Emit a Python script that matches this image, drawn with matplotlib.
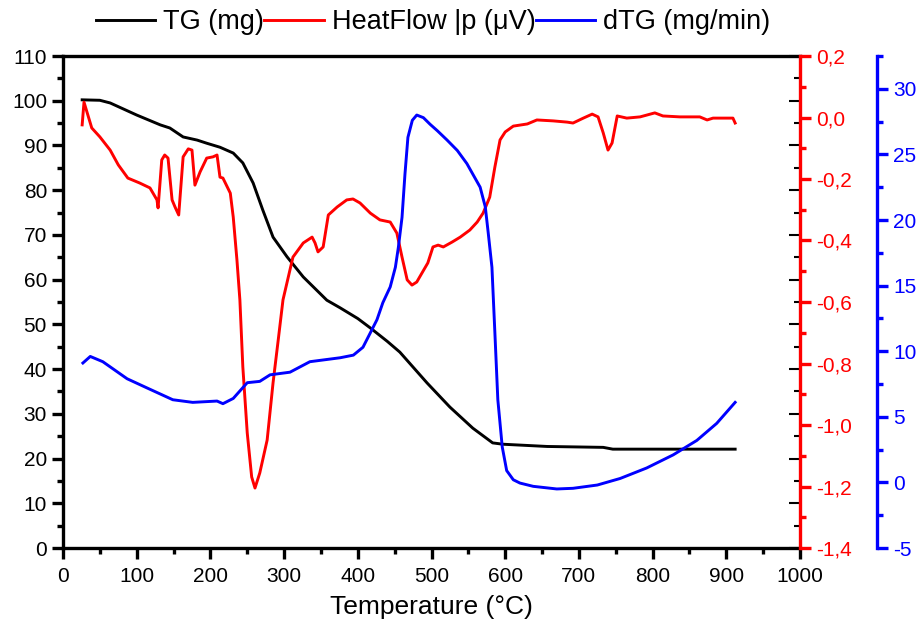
import numpy as np
import matplotlib
matplotlib.use("Agg")
import matplotlib.pyplot as plt
from matplotlib.ticker import MultipleLocator, FuncFormatter

plt.rcParams['font.family'] = ['Liberation Sans', 'DejaVu Sans']

# TG curve (mg)
tg_temp = [26, 50, 64, 100, 132, 145, 163, 182, 195, 213, 231, 244, 258, 271, 285, 304, 326, 358,
           376, 400, 417, 440, 457, 494, 525, 556, 583, 597, 657, 733, 746, 792, 912]
tg_mass = [100.2, 100.1, 99.5, 96.8, 94.6, 93.9, 91.9, 91.2, 90.5, 89.6, 88.3, 86.1, 81.6, 75.6, 69.5,
           65.1, 60.6, 55.4, 53.7, 51.3, 49.2, 46.2, 43.8, 36.9, 31.5, 26.8, 23.5, 23.2, 22.7, 22.5,
           22.1, 22.1, 22.1]

# heat flow (uV)
hf_temp = [26, 28.5, 39, 50, 64, 75, 88, 104, 118, 127.5, 129, 134, 138, 142.5, 148, 152, 157, 163,
           170, 175, 179, 186, 195, 203.5, 209, 213, 217, 227, 231, 236, 240, 244, 250, 256, 260.5,
           267, 277, 285, 292, 298.5, 312, 326, 338, 342, 346, 353, 360, 372, 385, 393.5, 403, 417,
           430, 444, 453, 460, 467, 473.5, 480, 487, 495, 502, 509, 516, 528, 539, 552, 562, 570,
           579, 586, 593, 600, 611, 630, 643, 665, 684, 692, 706, 718, 726, 733, 739.5, 745, 752,
           765, 783, 803, 814, 837, 864, 874, 882, 909, 912]
hf_val = [-0.024, 0.050, -0.034, -0.063, -0.106, -0.154, -0.197, -0.213, -0.229, -0.268, -0.294,
          -0.138, -0.122, -0.132, -0.268, -0.291, -0.317, -0.128, -0.102, -0.106, -0.220, -0.177,
          -0.132, -0.128, -0.122, -0.194, -0.197, -0.246, -0.324, -0.463, -0.593, -0.811, -1.026,
          -1.169, -1.205, -1.156, -1.049, -0.863, -0.724, -0.593, -0.454, -0.408, -0.389, -0.408,
          -0.437, -0.421, -0.317, -0.291, -0.268, -0.265, -0.278, -0.311, -0.333, -0.340, -0.376,
          -0.454, -0.528, -0.545, -0.535, -0.506, -0.473, -0.421, -0.415, -0.421, -0.405, -0.389,
          -0.366, -0.340, -0.311, -0.259, -0.161, -0.073, -0.047, -0.028, -0.021, -0.008, -0.011,
          -0.015, -0.018, -0.002, 0.011, 0.002, -0.050, -0.106, -0.083, 0.005, -0.002, 0.002,
          0.015, 0.005, 0.002, 0.002, -0.008, -0.002, -0.002, -0.018]

# dTG (mg/min)
dtg_temp = [27, 37, 54, 87, 114, 149, 176, 209, 217, 231, 250, 267, 281, 308, 335, 376, 394, 407,
            417, 426, 434, 444, 451, 455, 460, 464, 468, 474, 480, 489, 498, 508, 521, 535, 548,
            556, 566, 573, 577, 582, 586, 590, 596, 602, 611, 620, 638, 670, 692, 725, 756, 792,
            828, 860, 887, 912]
dtg_val = [9.1, 9.6, 9.2, 7.9, 7.2, 6.3, 6.1, 6.2, 6.0, 6.4, 7.6, 7.7, 8.2, 8.4, 9.2, 9.5, 9.7, 10.3,
           11.4, 12.4, 13.7, 14.9, 16.4, 17.9, 20.2, 23.5, 26.3, 27.6, 28.0, 27.8, 27.3, 26.8, 26.1,
           25.3, 24.3, 23.5, 22.5, 21.0, 19.0, 16.4, 11.4, 6.3, 2.7, 0.9, 0.2, -0.05, -0.3, -0.5,
           -0.45, -0.2, 0.3, 1.1, 2.1, 3.2, 4.5, 6.1]

fig = plt.figure(figsize=(9.17, 6.32), dpi=100)
ax = fig.add_axes([63 / 917, 84 / 632, 737 / 917, 492 / 632])
ax2 = ax.twinx()
ax3 = ax.twinx()

lw = 2.1
spw = 2.4
l1, = ax.plot(tg_temp, tg_mass, color='black', lw=lw, solid_joinstyle='round', label='TG (mg)')
l2, = ax2.plot(hf_temp, hf_val, color='red', lw=lw, solid_joinstyle='round', label='HeatFlow |p (μV)')
l3, = ax3.plot(dtg_temp, dtg_val, color='blue', lw=lw, solid_joinstyle='round', label='dTG (mg/min)')

ax.set_xlim(0, 1000)
ax.set_ylim(0, 110)
ax2.set_ylim(-1.4, 0.2)
ax3.set_ylim(-5, 32.5)

ax.xaxis.set_major_locator(MultipleLocator(100))
ax.xaxis.set_minor_locator(MultipleLocator(50))
ax.yaxis.set_major_locator(MultipleLocator(10))
ax.yaxis.set_minor_locator(MultipleLocator(5))
ax2.yaxis.set_major_locator(MultipleLocator(0.2))
ax2.yaxis.set_minor_locator(MultipleLocator(0.1))
ax2.yaxis.set_major_formatter(FuncFormatter(lambda v, p: f"{v:.1f}".replace('.', ',')))
ax3.yaxis.set_major_locator(MultipleLocator(5))
ax3.yaxis.set_minor_locator(MultipleLocator(2.5))
ax3.yaxis.set_major_formatter(FuncFormatter(lambda v, p: f"{v:.0f}"))

fs = 15
for s in ['left', 'bottom', 'top']:
    ax.spines[s].set_linewidth(spw)
ax.spines['right'].set_visible(False)
ax.tick_params(which='major', length=8, width=spw, labelsize=fs, direction='out')
ax.tick_params(which='minor', length=4, width=spw, direction='out')
ax.tick_params(axis='x', pad=6)

# inward ticks of left axis along the right side
sec = ax.secondary_yaxis('right')
sec.yaxis.set_major_locator(MultipleLocator(10))
sec.yaxis.set_minor_locator(MultipleLocator(5))
sec.spines['right'].set_visible(False)
sec.tick_params(which='major', direction='in', length=8, width=1.5, labelright=False)
sec.tick_params(which='minor', direction='in', length=4, width=1.5)

for a in (ax2, ax3):
    for s in ['left', 'bottom', 'top']:
        a.spines[s].set_visible(False)

ax2.spines['right'].set_color('red')
ax2.spines['right'].set_linewidth(spw)
ax2.tick_params(which='major', colors='red', length=8, width=spw, labelsize=fs)
ax2.tick_params(which='minor', colors='red', length=4, width=spw)

ax3.spines['right'].set_position(('axes', 1 + 77 / 737))
ax3.spines['right'].set_color('blue')
ax3.spines['right'].set_linewidth(spw)
ax3.tick_params(which='major', colors='blue', length=8, width=spw, labelsize=fs)
ax3.tick_params(which='minor', colors='blue', length=4, width=spw)

ax.set_xlabel('Temperature (°C)', fontsize=19, labelpad=6)

fig.legend(handles=[l1, l2, l3], loc='center', bbox_to_anchor=(433 / 917, 1 - 22 / 632), ncol=3,
           frameon=False, fontsize=19.5, handlelength=2.2, handletextpad=0.3, columnspacing=0.0,
           borderpad=0)

fig.savefig('out.png', dpi=100)
